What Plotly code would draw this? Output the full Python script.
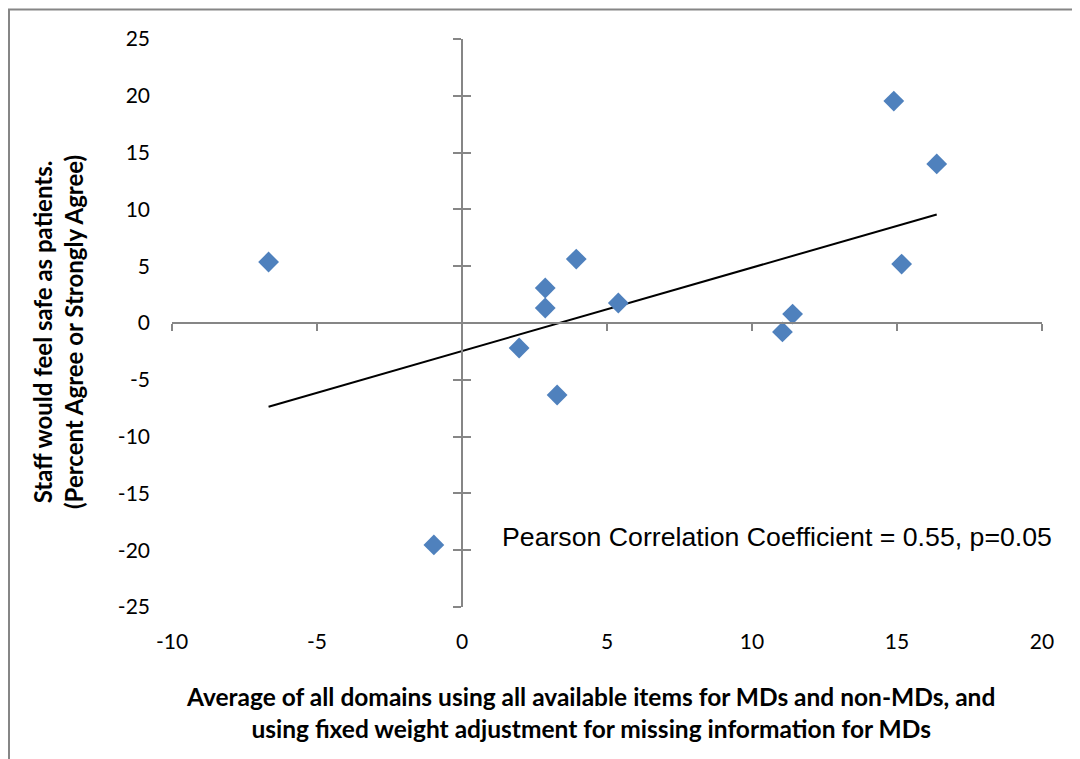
import numpy as np
import plotly.graph_objects as go

# Data
x_vals = [-6.67, -0.97, 1.97, 2.87, 2.87, 3.28, 3.94, 5.39, 11.05, 11.40, 14.89, 16.37, 15.16]
y_vals = [5.37, -19.54, -2.20, 3.08, 1.32, -6.34, 5.63, 1.76, -0.79, 0.79, 19.54, 14.00, 5.19]
x_ticks = [-10, -5, 0, 5, 10, 15, 20]
y_ticks = [-25, -20, -15, -10, -5, 0, 5, 10, 15, 20, 25]
annotation_text = "Pearson Correlation Coefficient = 0.55, p=0.05"
x_title = ("Average of all domains using all available items for MDs and non-MDs, and<br>"
           "using fixed weight adjustment for missing information for MDs")
y_title = "Staff would feel safe as patients.<br>(Percent Agree or Strongly Agree)"

slope, intercept = np.polyfit(x_vals, y_vals, 1)
tx = [min(x_vals), max(x_vals)]
ty = [slope * v + intercept for v in tx]

AXC = "#868686"
FONT = "Lato, Carlito, Calibri, sans-serif"

W, H = 1080, 759
ML, MR, MT, MB = 164, 46, 31, 160
pw, ph = W - ML - MR, H - MT - MB


def px_x(v):
    return (v - ML) / pw


def px_y(v):  # v measured from top of figure
    return (H - v - MB) / ph


fig = go.Figure()
fig.add_trace(go.Scatter(x=tx, y=ty, mode="lines", line=dict(color="black", width=2),
                         hoverinfo="skip", showlegend=False))
fig.add_trace(go.Scatter(x=x_vals, y=y_vals, mode="markers",
                         marker=dict(symbol="diamond", size=16, color="#4F81BD"),
                         showlegend=False))
# dummy traces so overlay axes are drawn
fig.add_trace(go.Scatter(x=[None], y=[None], xaxis="x2", yaxis="y2", showlegend=False))
fig.add_trace(go.Scatter(x=[None], y=[None], xaxis="x2", yaxis="y3", showlegend=False))

fig.update_layout(
    width=W, height=H,
    margin=dict(l=ML, r=MR, t=MT, b=MB),
    paper_bgcolor="white", plot_bgcolor="white",
    font=dict(family=FONT, size=21, color="black"),
    xaxis=dict(range=[-10, 20], tickvals=x_ticks, ticktext=[str(v) for v in x_ticks],
               showgrid=False, zeroline=False, showline=False, ticks="",
               ticklabelstandoff=20, tickfont=dict(size=21)),
    yaxis=dict(range=[-25, 25], tickvals=y_ticks, ticktext=[str(v) for v in y_ticks],
               showgrid=False, zeroline=False, showline=False, ticks="",
               ticklabelstandoff=21, tickfont=dict(size=21)),
    xaxis2=dict(overlaying="x", matches="x", range=[-10, 20], tickvals=x_ticks,
                anchor="free", position=0.5, side="bottom",
                showline=True, linecolor=AXC, linewidth=1.5,
                ticks="outside", ticklen=7, tickwidth=1.5, tickcolor=AXC,
                showticklabels=False, showgrid=False, zeroline=False),
    yaxis2=dict(overlaying="y", matches="y", range=[-25, 25], tickvals=y_ticks,
                anchor="free", position=1/3, side="left",
                showline=True, linecolor=AXC, linewidth=1.5,
                ticks="outside", ticklen=8, tickwidth=1.5, tickcolor=AXC,
                showticklabels=False, showgrid=False, zeroline=False),
    yaxis3=dict(overlaying="y", matches="y", range=[-25, 25], tickvals=y_ticks,
                anchor="free", position=1/3, side="left",
                showline=False,
                ticks="inside", ticklen=8, tickwidth=1.5, tickcolor=AXC,
                showticklabels=False, showgrid=False, zeroline=False),
    annotations=[
        dict(x=1.31, y=-18.8, xref="x", yref="y", text=annotation_text, showarrow=False,
             xanchor="left", yanchor="middle",
             font=dict(family="Liberation Sans, Arial, sans-serif", size=26.7)),
        dict(x=px_x(582), y=px_y(704), xref="paper", yref="paper", text=x_title, showarrow=False,
             xanchor="center", yanchor="middle",
             font=dict(family=FONT, size=24.5, color="black", weight="bold")),
        dict(x=px_x(50), y=px_y(324), xref="paper", yref="paper", text=y_title, showarrow=False,
             textangle=-90, xanchor="center", yanchor="middle",
             font=dict(family=FONT, size=24, color="black", weight="bold")),
    ],
    shapes=[dict(type="rect", xref="paper", yref="paper",
                 x0=px_x(1), x1=px_x(1300), y0=px_y(1.5), y1=px_y(1000),
                 line=dict(color=AXC, width=2), layer="below")],
)

fig.write_html("out.html")
